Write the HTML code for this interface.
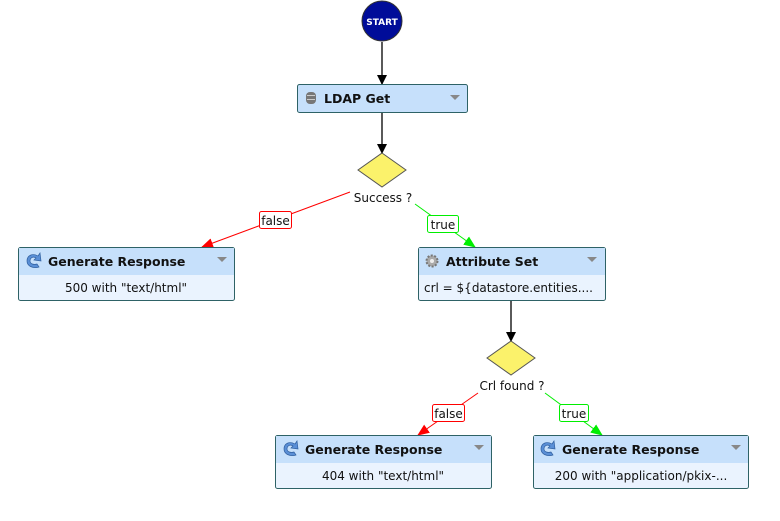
<!DOCTYPE html>
<html><head><style>body{margin:0;background:#fff}svg{display:block;font-family:"DejaVu Sans","Liberation Sans",sans-serif}</style></head>
<body>
<svg width="780" height="521" viewBox="0 0 780 521" xmlns="http://www.w3.org/2000/svg">
<defs>
<marker id="ak" markerWidth="10" markerHeight="10" refX="9" refY="5" orient="auto" markerUnits="userSpaceOnUse"><path d="M0,0 L10,5 L0,10 z" fill="#000"/></marker>
<marker id="ar" markerWidth="12" markerHeight="10" refX="11" refY="5" orient="auto" markerUnits="userSpaceOnUse"><path d="M0,0 L12,5 L0,10 z" fill="#f00"/></marker>
<marker id="ag" markerWidth="12" markerHeight="10" refX="11" refY="5" orient="auto" markerUnits="userSpaceOnUse"><path d="M0,0 L12,5 L0,10 z" fill="#0e0"/></marker>
<g id="dd"><path d="M0,0 L10,0 L5,5 z" fill="#888"/></g>
<g id="gi"><path d="M3,9 C3,3 9,1 14,4 L16,1 L17,9 L10,8 L12,6 C9,4 6,6 6,9 C6,12 10,13 13,12 L15,15 C9,17 3,14 3,9 z" fill="#5a8fd6" stroke="#2f5f9f" stroke-width="0.7"/></g>
</defs>
<circle cx="382" cy="21" r="20" fill="#000c99" stroke="#333" stroke-width="1"/>
<text x="382" y="25" font-size="9" font-weight="bold" fill="#fff" text-anchor="middle">START</text>
<line x1="382" y1="42" x2="382" y2="84" stroke="#000" stroke-width="1.3" marker-end="url(#ak)"/>
<rect x="297.5" y="84.5" width="170" height="28" rx="2" fill="#c6e0fb" stroke="#2e6266"/>
<g transform="translate(306,92)"><rect x="0" y="0" width="10" height="12" rx="4" fill="#777"/><rect x="1" y="3" width="8" height="1" fill="#ccc"/><rect x="1" y="7" width="8" height="1" fill="#ccc"/></g>
<text x="324" y="103" font-size="12.5" font-weight="bold" fill="#111">LDAP Get</text>
<use href="#dd" x="450" y="95"/>
<line x1="382" y1="113" x2="382" y2="153" stroke="#000" stroke-width="1.3" marker-end="url(#ak)"/>
<path d="M382,153 L406,170 L382,187 L358,170 z" fill="#fbf26b" stroke="#555"/>
<text x="383" y="202" font-size="12" fill="#111" text-anchor="middle">Success ?</text>
<line x1="350" y1="192" x2="202" y2="247" stroke="#f00" marker-end="url(#ar)"/>
<line x1="415" y1="204" x2="475" y2="247" stroke="#0e0" marker-end="url(#ag)"/>
<rect x="259.5" y="211.5" width="32" height="17" rx="2" fill="#fff" stroke="#f00"/>
<text x="275.5" y="225" font-size="12" fill="#111" text-anchor="middle">false</text>
<rect x="427.5" y="215.5" width="31" height="17" rx="2" fill="#fff" stroke="#0e0"/>
<text x="443" y="229" font-size="12" fill="#111" text-anchor="middle">true</text>
<rect x="18.5" y="247.5" width="216" height="53" rx="2" fill="#eaf3fe" stroke="#2e6266"/>
<rect x="19" y="248" width="215" height="27" fill="#c6e0fb"/>
<use href="#gi" x="24" y="252"/>
<text x="48" y="266" font-size="12.5" font-weight="bold" fill="#111">Generate Response</text>
<use href="#dd" x="217" y="257"/>
<text x="126" y="292" font-size="12" fill="#111" text-anchor="middle">500 with "text/html"</text>
<rect x="418.5" y="247.5" width="187" height="53" rx="2" fill="#eaf3fe" stroke="#2e6266"/>
<rect x="419" y="248" width="186" height="27" fill="#c6e0fb"/>
<circle cx="432" cy="261" r="5.5" fill="#aaa" stroke="#777" stroke-dasharray="2 1.5" stroke-width="2"/><circle cx="432" cy="261" r="2" fill="#eee"/>
<text x="446" y="266" font-size="12.5" font-weight="bold" fill="#111">Attribute Set</text>
<use href="#dd" x="587" y="257"/>
<text x="424" y="292" font-size="12" fill="#111">crl = ${datastore.entities....</text>
<line x1="511" y1="301" x2="511" y2="341" stroke="#000" stroke-width="1.3" marker-end="url(#ak)"/>
<path d="M511,341 L535,358 L511,375 L487,358 z" fill="#fbf26b" stroke="#555"/>
<text x="512" y="390" font-size="12" fill="#111" text-anchor="middle">Crl found ?</text>
<line x1="478" y1="393" x2="418" y2="435" stroke="#f00" marker-end="url(#ar)"/>
<line x1="545" y1="393" x2="602" y2="435" stroke="#0e0" marker-end="url(#ag)"/>
<rect x="432.5" y="404.5" width="32" height="17" rx="2" fill="#fff" stroke="#f00"/>
<text x="448.5" y="418" font-size="12" fill="#111" text-anchor="middle">false</text>
<rect x="559.5" y="404.5" width="29" height="17" rx="2" fill="#fff" stroke="#0e0"/>
<text x="574" y="418" font-size="12" fill="#111" text-anchor="middle">true</text>
<rect x="275.5" y="435.5" width="216" height="53" rx="2" fill="#eaf3fe" stroke="#2e6266"/>
<rect x="276" y="436" width="215" height="27" fill="#c6e0fb"/>
<use href="#gi" x="281" y="440"/>
<text x="305" y="454" font-size="12.5" font-weight="bold" fill="#111">Generate Response</text>
<use href="#dd" x="474" y="445"/>
<text x="383" y="480" font-size="12" fill="#111" text-anchor="middle">404 with "text/html"</text>
<rect x="533.5" y="435.5" width="215" height="53" rx="2" fill="#eaf3fe" stroke="#2e6266"/>
<rect x="534" y="436" width="214" height="27" fill="#c6e0fb"/>
<use href="#gi" x="538" y="440"/>
<text x="562" y="454" font-size="12.5" font-weight="bold" fill="#111">Generate Response</text>
<use href="#dd" x="731" y="445"/>
<text x="641" y="480" font-size="12" fill="#111" text-anchor="middle">200 with "application/pkix-...</text>
</svg>
</body></html>
